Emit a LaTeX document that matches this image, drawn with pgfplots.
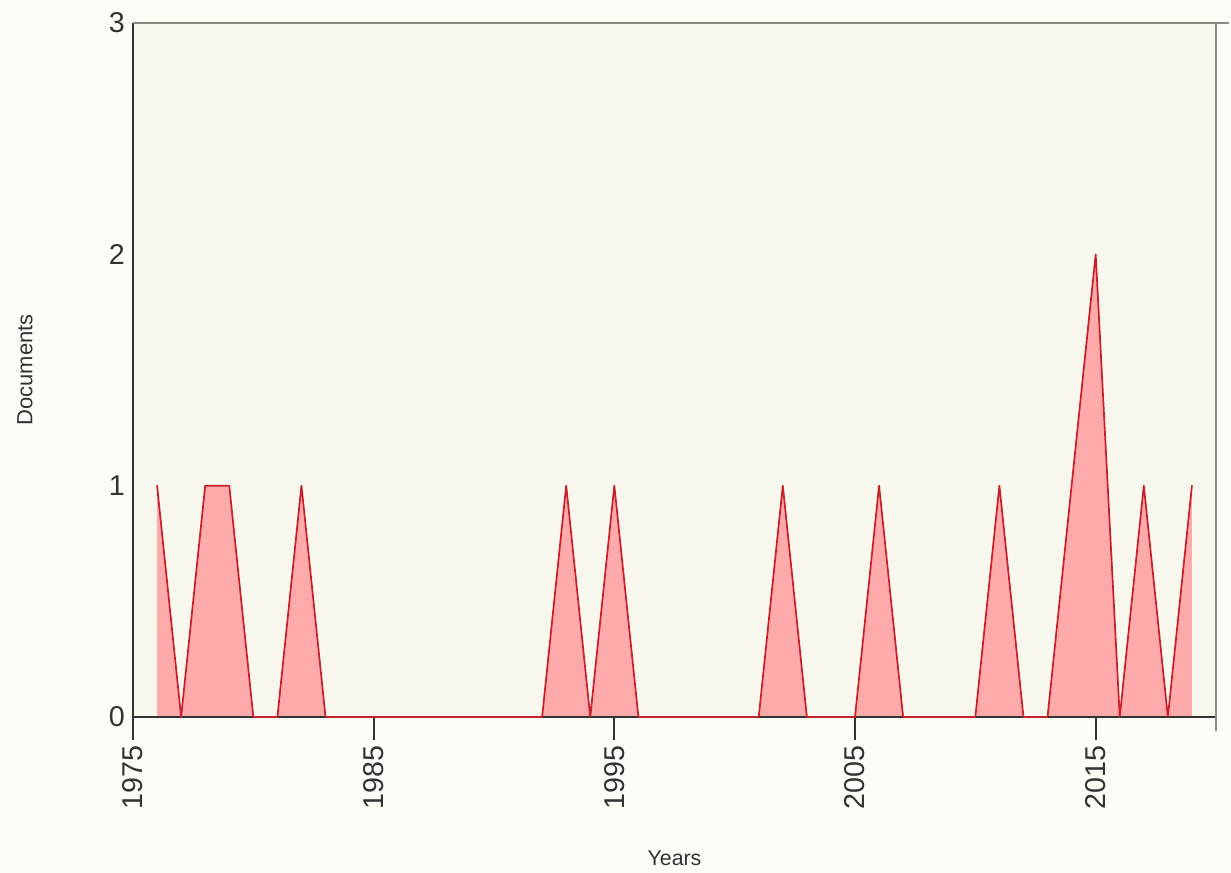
\documentclass[border=0pt]{standalone}
\usepackage{fontspec}
\setmainfont{Liberation Sans}
\usepackage{pgfplots}
\pgfplotsset{compat=1.18}
\definecolor{outerbg}{HTML}{FDFDF7}
\definecolor{plotbg}{HTML}{F7F7EE}
\definecolor{fillred}{HTML}{FFAAAA}
\definecolor{linered}{HTML}{C8202C}
\definecolor{axdark}{HTML}{333333}
\definecolor{axgray}{HTML}{8A8A80}
\begin{document}
\begin{tikzpicture}[x=1pt,y=1pt]
\fill[outerbg] (-99.75,-117) rectangle (823.5,537.75);
\begin{axis}[at={(0,0)}, anchor=south west, scale only axis,
  width=812.25pt, height=520.5pt,
  xmin=1975, xmax=2020, ymin=0, ymax=3,
  clip=false,
  axis background/.style={fill=plotbg},
  axis line style={draw=none},
  xtick={1975,1985,1995,2005,2015},
  ytick={0,1,2,3},
  tick align=outside,
  xtick pos=bottom, ytick pos=left,
  major tick length=17pt,
  xtick style={draw=axdark, line width=1.3pt},
  ytick style={draw=none},
  /pgf/number format/assume math mode=true,
  /pgf/number format/1000 sep={},
  tick label style={font=\fontsize{21.5}{25}\selectfont, text=axdark},
  xticklabel style={yshift=-4pt, rotate=90, anchor=east, inner sep=0pt},
  yticklabel style={anchor=east, inner sep=0pt, xshift=11pt},
  every axis x label/.style={at={(axis description cs:0.5,-0.2032)}, anchor=center, font=\fontsize{16}{19}\selectfont, text=axdark},
  every axis y label/.style={at={(axis description cs:-0.0997,0.5)}, rotate=90, anchor=center, font=\fontsize{16.5}{19}\selectfont, text=axdark},
  xlabel={Years}, ylabel={Documents},
]
\addplot[fill=fillred, draw=none] coordinates {
(1976,1) (1977,0) (1978,1) (1979,1) (1980,0) (1981,0) (1982,1) (1983,0)
(1984,0) (1985,0) (1986,0) (1987,0) (1988,0) (1989,0) (1990,0) (1991,0) (1992,0)
(1993,1) (1994,0) (1995,1) (1996,0) (1997,0) (1998,0) (1999,0) (2000,0) (2001,0)
(2002,1) (2003,0) (2004,0) (2005,0) (2006,1) (2007,0) (2008,0) (2009,0) (2010,0)
(2011,1) (2012,0) (2013,0) (2014,1) (2015,2) (2016,0) (2017,1) (2018,0) (2019,1)
} \closedcycle;
\draw[axdark, line width=1.5pt] (rel axis cs:0,0) -- (rel axis cs:1,0);
\addplot[draw=linered, line width=1.3pt, line join=round, line cap=round] coordinates {
(1976,1) (1977,0) (1978,1) (1979,1) (1980,0) (1981,0) (1982,1) (1983,0)
(1984,0) (1985,0) (1986,0) (1987,0) (1988,0) (1989,0) (1990,0) (1991,0) (1992,0)
(1993,1) (1994,0) (1995,1) (1996,0) (1997,0) (1998,0) (1999,0) (2000,0) (2001,0)
(2002,1) (2003,0) (2004,0) (2005,0) (2006,1) (2007,0) (2008,0) (2009,0) (2010,0)
(2011,1) (2012,0) (2013,0) (2014,1) (2015,2) (2016,0) (2017,1) (2018,0) (2019,1)
};
\draw[axdark, line width=1.5pt] (rel axis cs:0,-0.02) -- (rel axis cs:0,1);
\draw[axgray, line width=1.5pt] (rel axis cs:0,1) -- (rel axis cs:1.012,1);
\draw[axgray, line width=1.5pt] (rel axis cs:1,1) -- (rel axis cs:1,-0.02);
\end{axis}
\end{tikzpicture}
\end{document}
